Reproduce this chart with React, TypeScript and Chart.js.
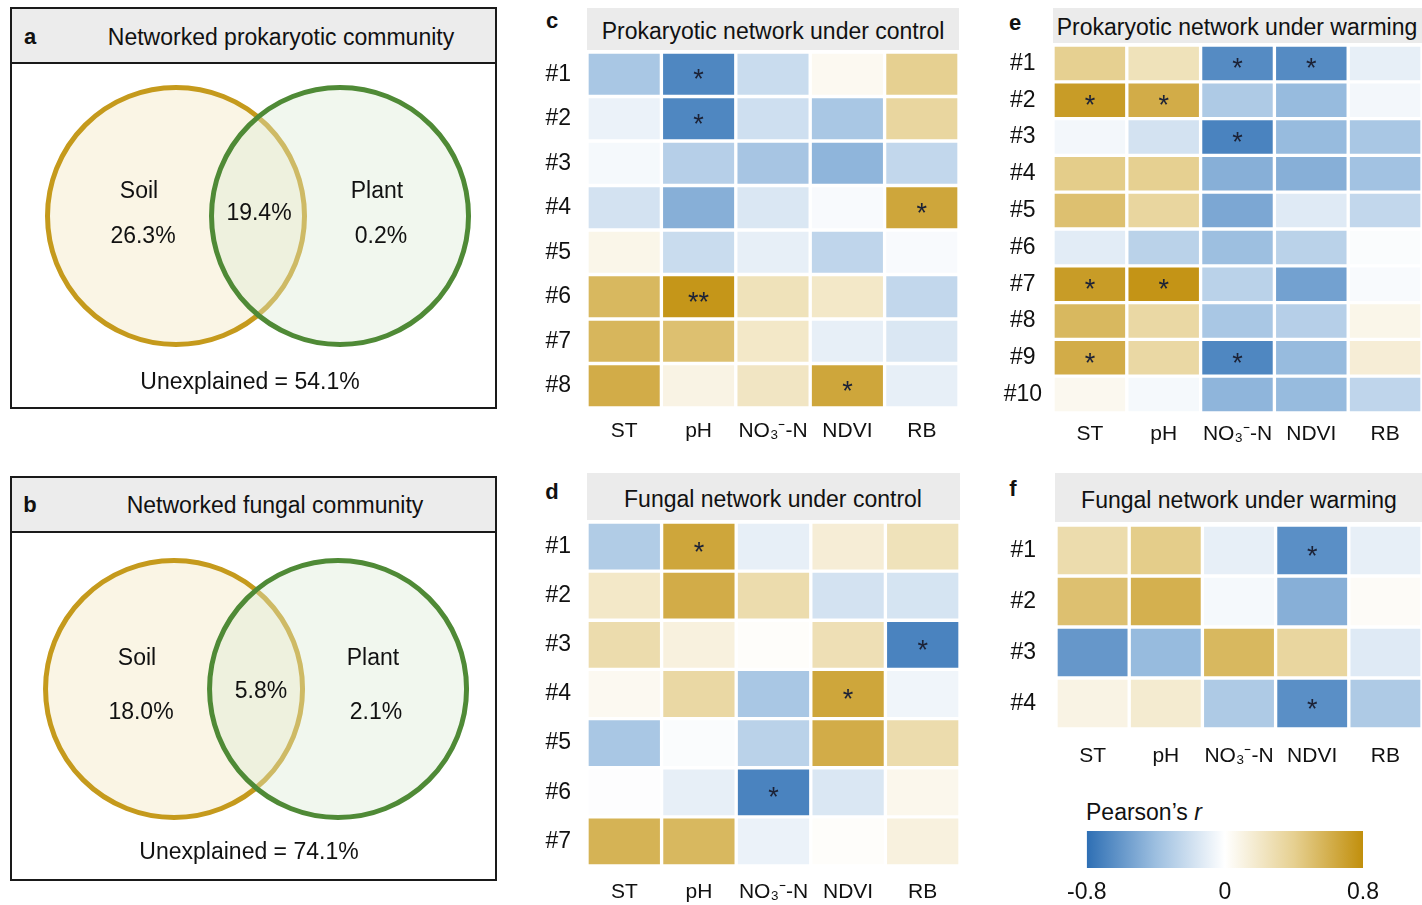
import React, { useEffect, useRef } from 'react';
import { Chart, registerables } from 'chart.js';

Chart.register(...registerables);

const FONT = "'Liberation Sans', Arial, Helvetica, sans-serif";
Chart.defaults.font.family = FONT;
Chart.defaults.color = '#111';

// ---------------- DATA ----------------
const factorLabels = ['ST', 'pH', 'NO₃⁻-N', 'NDVI', 'RB'];

const rowsC = ['#1', '#2', '#3', '#4', '#5', '#6', '#7', '#8'];
const prokControlR = [
  [-0.35, -0.68, -0.22, 0.05, 0.4],
  [-0.08, -0.68, -0.2, -0.35, 0.35],
  [-0.04, -0.3, -0.36, -0.45, -0.25],
  [-0.18, -0.48, -0.15, -0.03, 0.66],
  [0.08, -0.22, -0.1, -0.26, -0.03],
  [0.55, 0.76, 0.25, 0.2, -0.25],
  [0.56, 0.5, 0.2, -0.1, -0.15],
  [0.62, 0.1, 0.22, 0.66, -0.1],
];
const prokControlSig = [
  ['', '*', '', '', ''],
  ['', '*', '', '', ''],
  ['', '', '', '', ''],
  ['', '', '', '', '*'],
  ['', '', '', '', ''],
  ['', '**', '', '', ''],
  ['', '', '', '', ''],
  ['', '', '', '*', ''],
];

const rowsE = ['#1', '#2', '#3', '#4', '#5', '#6', '#7', '#8', '#9', '#10'];
const prokWarmingR = [
  [0.4, 0.25, -0.66, -0.66, -0.1],
  [0.72, 0.62, -0.33, -0.42, -0.05],
  [-0.05, -0.18, -0.7, -0.42, -0.35],
  [0.42, 0.4, -0.48, -0.48, -0.38],
  [0.5, 0.35, -0.52, -0.13, -0.25],
  [-0.12, -0.28, -0.4, -0.28, -0.02],
  [0.72, 0.77, -0.28, -0.55, -0.03],
  [0.55, 0.33, -0.35, -0.3, 0.08],
  [0.62, 0.33, -0.68, -0.42, 0.15],
  [0.06, -0.04, -0.45, -0.42, -0.26],
];
const prokWarmingSig = [
  ['', '', '*', '*', ''],
  ['*', '*', '', '', ''],
  ['', '', '*', '', ''],
  ['', '', '', '', ''],
  ['', '', '', '', ''],
  ['', '', '', '', ''],
  ['*', '*', '', '', ''],
  ['', '', '', '', ''],
  ['*', '', '*', '', ''],
  ['', '', '', '', ''],
];

const rowsD = ['#1', '#2', '#3', '#4', '#5', '#6', '#7'];
const fungControlR = [
  [-0.32, 0.66, -0.1, 0.15, 0.25],
  [0.2, 0.62, 0.3, -0.18, -0.17],
  [0.3, 0.12, 0.02, 0.27, -0.7],
  [0.05, 0.33, -0.35, 0.66, -0.06],
  [-0.35, -0.02, -0.28, 0.62, 0.3],
  [-0.01, -0.1, -0.7, -0.15, 0.07],
  [0.58, 0.55, -0.08, 0.02, 0.12],
];
const fungControlSig = [
  ['', '*', '', '', ''],
  ['', '', '', '', ''],
  ['', '', '', '', '*'],
  ['', '', '', '*', ''],
  ['', '', '', '', ''],
  ['', '', '*', '', ''],
  ['', '', '', '', ''],
];

const rowsF = ['#1', '#2', '#3', '#4'];
const fungWarmingR = [
  [0.3, 0.42, -0.1, -0.64, -0.1],
  [0.5, 0.6, -0.04, -0.48, 0.03],
  [-0.6, -0.42, 0.55, 0.35, -0.13],
  [0.1, 0.17, -0.33, -0.64, -0.33],
];
const fungWarmingSig = [
  ['', '', '', '*', ''],
  ['', '', '', '', ''],
  ['', '', '', '', ''],
  ['', '', '', '*', ''],
];

const vennSets = ['Soil', 'Plant'];
const prokVenn = [26.3, 19.4, 0.2]; // soil only, shared, plant only
const prokUnexplained = 54.1;
const fungVenn = [18.0, 5.8, 2.1];
const fungUnexplained = 74.1;

const colorbarTicks = [-0.8, 0, 0.8];

// ---------------- COLOURS ----------------
const STOPS: [number, number[]][] = [
  [-0.8, [46, 111, 180]],
  [-0.4, [157, 191, 224]],
  [0, [255, 255, 255]],
  [0.4, [230, 208, 145]],
  [0.8, [193, 143, 12]],
];
const rgb = (c: number[]) => `rgb(${c.map((v) => Math.round(v)).join(',')})`;
function colorOf(v: number): string {
  const x = Math.max(-0.8, Math.min(0.8, v));
  for (let k = 0; k < STOPS.length - 1; k++) {
    const [a, ca] = STOPS[k];
    const [b, cb] = STOPS[k + 1];
    if (x >= a && x <= b) {
      const t = (x - a) / (b - a);
      return rgb(ca.map((c, i) => c + (cb[i] - c) * t));
    }
  }
  return rgb(STOPS[STOPS.length - 1][1]);
}

// ---------------- PLUGINS ----------------
const starPlugin = (sig: string[][]) => ({
  id: 'stars',
  afterDatasetsDraw(chart: any) {
    const ctx = chart.ctx;
    ctx.save();
    ctx.font = `27px ${FONT}`;
    ctx.fillStyle = '#1c2236';
    ctx.textAlign = 'center';
    ctx.textBaseline = 'alphabetic';
    chart.data.datasets.forEach((_ds: any, j: number) => {
      chart.getDatasetMeta(j).data.forEach((el: any, i: number) => {
        const s = sig[i] && sig[i][j];
        if (!s) return;
        const c = el.getCenterPoint();
        ctx.fillText(s, c.x, c.y + 14);
      });
    });
    ctx.restore();
  },
});

// ---------------- COMPONENTS ----------------
type HMProps = {
  values: number[][];
  sig: string[][];
  rows: string[];
  left: number;
  top: number;
  areaW: number;
  areaH: number;
  yAxisW: number;
  xAxisH: number;
  yPad: number;
  xPad: number;
};

function Heatmap(p: HMProps) {
  const ref = useRef<HTMLCanvasElement>(null);
  useEffect(() => {
    const chart = new Chart(ref.current as HTMLCanvasElement, {
      type: 'bar',
      data: {
        labels: p.rows,
        datasets: factorLabels.map((f, j) => ({
          label: f,
          data: p.values.map(() => [j, j + 1]),
          backgroundColor: p.values.map((r) => colorOf(r[j])),
          borderColor: '#ffffff',
          borderWidth: 2,
          borderSkipped: false,
          grouped: false,
          categoryPercentage: 1,
          barPercentage: 1,
        })),
      } as any,
      options: {
        indexAxis: 'y',
        responsive: false,
        animation: false,
        events: [],
        layout: { padding: 0, autoPadding: false },
        plugins: { legend: { display: false }, tooltip: { enabled: false } },
        scales: {
          y: {
            type: 'category',
            position: 'left',
            grid: { display: false, drawTicks: false },
            border: { display: false },
            ticks: { font: { size: 23 }, color: '#111', padding: p.yPad, crossAlign: 'center' },
            afterFit: (s: any) => {
              s.width = p.yAxisW;
              s.paddingTop = 0;
              s.paddingBottom = 0;
            },
          },
          x: {
            type: 'linear',
            position: 'bottom',
            min: 0,
            max: factorLabels.length,
            grid: { display: false, drawTicks: false },
            border: { display: false },
            afterBuildTicks: (s: any) => {
              s.ticks = factorLabels.map((_l, i) => ({ value: i + 0.5 }));
            },
            ticks: {
              autoSkip: false,
              maxRotation: 0,
              font: { size: 21 },
              color: '#111',
              padding: p.xPad,
              callback: (_v: any, i: number) => factorLabels[i],
            },
            afterFit: (s: any) => {
              s.height = p.xAxisH;
              s.paddingLeft = 0;
              s.paddingRight = 0;
            },
          },
        },
      } as any,
      plugins: [starPlugin(p.sig)],
    });
    return () => chart.destroy();
  }, []);
  const w = p.yAxisW + p.areaW;
  const h = p.areaH + p.xAxisH;
  return (
    <canvas
      ref={ref}
      width={w}
      height={h}
      style={{ position: 'absolute', left: p.left - p.yAxisW, top: p.top, width: w, height: h }}
    />
  );
}

type VennProps = { left: number; top: number; width: number; height: number; xMin: number; xMax: number };
function Venn(p: VennProps) {
  const ref = useRef<HTMLCanvasElement>(null);
  useEffect(() => {
    const chart = new Chart(ref.current as HTMLCanvasElement, {
      type: 'scatter',
      data: {
        datasets: [
          {
            data: vennSets.map((_s, i) => ({ x: i - 0.5, y: 0 })),
            pointRadius: 128.5,
            pointBorderWidth: 5,
            pointBackgroundColor: ['#faf5e5', 'rgba(220,236,212,0.4)'],
            pointBorderColor: ['#c59a1c', '#4f8a36'],
            clip: false,
          },
        ],
      } as any,
      options: {
        responsive: false,
        animation: false,
        events: [],
        layout: { padding: 0, autoPadding: false },
        plugins: { legend: { display: false }, tooltip: { enabled: false } },
        scales: {
          x: { type: 'linear', min: p.xMin, max: p.xMax, display: false },
          y: { type: 'linear', min: -1, max: 1, display: false },
        },
      } as any,
    });
    return () => chart.destroy();
  }, []);
  return (
    <canvas
      ref={ref}
      width={p.width}
      height={p.height}
      style={{ position: 'absolute', left: p.left, top: p.top, width: p.width, height: p.height }}
    />
  );
}

function ColorBar() {
  const ref = useRef<HTMLCanvasElement>(null);
  useEffect(() => {
    const chart = new Chart(ref.current as HTMLCanvasElement, {
      type: 'bar',
      data: {
        labels: ['r'],
        datasets: [
          {
            data: [[colorbarTicks[0], colorbarTicks[colorbarTicks.length - 1]]],
            backgroundColor: (c: any) => {
              const ch = c.chart;
              const xs = ch.scales && ch.scales.x;
              if (!ch.chartArea || !xs) return '#fff';
              const g = ch.ctx.createLinearGradient(ch.chartArea.left, 0, ch.chartArea.right, 0);
              const l = ch.chartArea.left;
              const wdt = ch.chartArea.right - l;
              STOPS.forEach(([v, col]) => {
                const off = (xs.getPixelForValue(v) - l) / wdt;
                g.addColorStop(Math.max(0, Math.min(1, off)), rgb(col));
              });
              return g;
            },
            borderWidth: 0,
            categoryPercentage: 1,
            barPercentage: 1,
          },
        ],
      } as any,
      options: {
        indexAxis: 'y',
        responsive: false,
        animation: false,
        events: [],
        layout: { padding: { left: 30, right: 30, top: 0, bottom: 0 }, autoPadding: false },
        plugins: { legend: { display: false }, tooltip: { enabled: false } },
        scales: {
          y: { type: 'category', display: false },
          x: {
            type: 'linear',
            min: -0.8,
            max: 0.8,
            grid: { display: false, drawTicks: false },
            border: { display: false },
            afterBuildTicks: (s: any) => {
              s.ticks = colorbarTicks.map((v) => ({ value: v }));
            },
            ticks: {
              autoSkip: false,
              maxRotation: 0,
              font: { size: 23 },
              color: '#111',
              padding: 11,
              callback: (v: any) => (v === 0 ? '0' : Number(v).toFixed(1)),
            },
            afterFit: (s: any) => {
              s.height = 40;
            },
          },
        },
      } as any,
    });
    return () => chart.destroy();
  }, []);
  return (
    <canvas
      ref={ref}
      width={337}
      height={77}
      style={{ position: 'absolute', left: 1056, top: 831, width: 337, height: 77 }}
    />
  );
}

type TProps = { x: number; y: number; children: React.ReactNode; size?: number; bold?: boolean; left?: boolean };
function T({ x, y, children, size = 23, bold = false, left = false }: TProps) {
  return (
    <div
      style={{
        position: 'absolute',
        left: x,
        top: y,
        transform: left ? 'translate(0,-50%)' : 'translate(-50%,-50%)',
        fontSize: size,
        fontWeight: bold ? 700 : 400,
        whiteSpace: 'nowrap',
        lineHeight: 1.15,
        color: '#111',
      }}
    >
      {children}
    </div>
  );
}

function Band({ x, y, w, h }: { x: number; y: number; w: number; h: number }) {
  return <div style={{ position: 'absolute', left: x, top: y, width: w, height: h, background: '#ebebeb' }} />;
}

function VennBox({ top, height }: { top: number; height: number }) {
  return (
    <div
      style={{
        position: 'absolute',
        left: 10,
        top,
        width: 487,
        height,
        border: '2px solid #1a1a1a',
        boxSizing: 'border-box',
      }}
    >
      <div style={{ height: 53, background: '#ececec', borderBottom: '2px solid #1a1a1a' }} />
    </div>
  );
}

const pct = (v: number) => `${v.toFixed(1)}%`;

export default function App() {
  return (
    <div
      style={{
        position: 'absolute',
        left: 0,
        top: 0,
        width: 1422,
        height: 905,
        overflow: 'hidden',
        background: '#ffffff',
        fontFamily: FONT,
      }}
    >
      {/* Panel a */}
      <VennBox top={7} height={402} />
      <Venn left={12} top={64} width={483} height={304} xMin={-1.5} xMax={1.445} />
      <T x={30} y={37} bold size={22}>a</T>
      <T x={281} y={37}>Networked prokaryotic community</T>
      <T x={139} y={190}>{vennSets[0]}</T>
      <T x={143} y={235}>{pct(prokVenn[0])}</T>
      <T x={259} y={212}>{pct(prokVenn[1])}</T>
      <T x={377} y={190}>{vennSets[1]}</T>
      <T x={381} y={235}>{pct(prokVenn[2])}</T>
      <T x={250} y={381}>Unexplained = {pct(prokUnexplained)}</T>

      {/* Panel b */}
      <VennBox top={476} height={405} />
      <Venn left={12} top={537} width={483} height={304} xMin={-1.488} xMax={1.457} />
      <T x={30} y={505} bold size={22}>b</T>
      <T x={275} y={505}>Networked fungal community</T>
      <T x={137} y={657}>{vennSets[0]}</T>
      <T x={141} y={711}>{pct(fungVenn[0])}</T>
      <T x={261} y={690}>{pct(fungVenn[1])}</T>
      <T x={373} y={657}>{vennSets[1]}</T>
      <T x={376} y={711}>{pct(fungVenn[2])}</T>
      <T x={249} y={851}>Unexplained = {pct(fungUnexplained)}</T>

      {/* Panel c */}
      <Band x={587} y={8} w={372} h={42} />
      <T x={552} y={21} bold size={22}>c</T>
      <T x={773} y={31}>Prokaryotic network under control</T>
      <Heatmap
        values={prokControlR}
        sig={prokControlSig}
        rows={rowsC}
        left={587}
        top={52}
        areaW={372}
        areaH={356}
        yAxisW={59}
        xAxisH={42}
        yPad={16}
        xPad={11}
      />

      {/* Panel d */}
      <Band x={587} y={473} w={373} h={47} />
      <T x={552} y={492} bold size={22}>d</T>
      <T x={773} y={499}>Fungal network under control</T>
      <Heatmap
        values={fungControlR}
        sig={fungControlSig}
        rows={rowsD}
        left={587}
        top={522}
        areaW={373}
        areaH={344}
        yAxisW={59}
        xAxisH={42}
        yPad={16}
        xPad={14}
      />

      {/* Panel e */}
      <Band x={1053} y={8} w={369} h={35} />
      <T x={1015} y={23} bold size={22}>e</T>
      <T x={1237} y={27}>Prokaryotic network under warming</T>
      <Heatmap
        values={prokWarmingR}
        sig={prokWarmingSig}
        rows={rowsE}
        left={1053}
        top={45}
        areaW={369}
        areaH={368}
        yAxisW={58}
        xAxisH={40}
        yPad={11}
        xPad={9}
      />

      {/* Panel f */}
      <Band x={1055} y={473} w={367} h={49} />
      <T x={1013} y={489} bold size={22}>f</T>
      <T x={1239} y={500}>Fungal network under warming</T>
      <Heatmap
        values={fungWarmingR}
        sig={fungWarmingSig}
        rows={rowsF}
        left={1056}
        top={525}
        areaW={366}
        areaH={204}
        yAxisW={60}
        xAxisH={44}
        yPad={20}
        xPad={15}
      />

      {/* Colour bar */}
      <T x={1086} y={812} left>
        Pearson’s <i>r</i>
      </T>
      <ColorBar />
    </div>
  );
}
